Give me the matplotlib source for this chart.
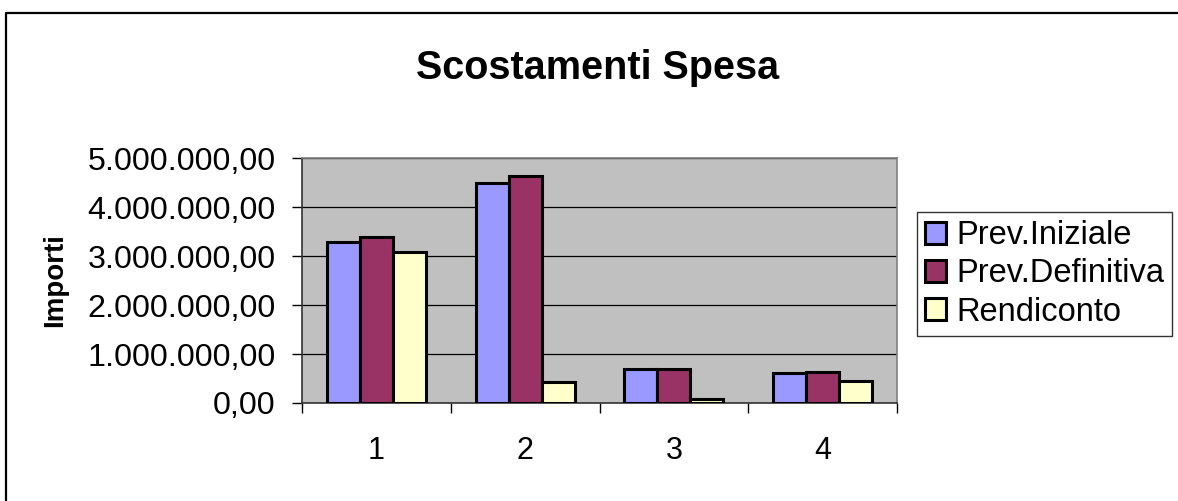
import numpy as np
import matplotlib
matplotlib.use("Agg")
import matplotlib.pyplot as plt
from matplotlib.ticker import FuncFormatter, FixedLocator
from matplotlib.lines import Line2D

# values
categorie = ["1", "2", "3", "4"]
prev_iniziale = [3290000, 4500000, 690000, 610000]
prev_definitiva = [3390000, 4630000, 690000, 630000]
rendiconto = [3080000, 420000, 90000, 450000]
serie = ["Prev.Iniziale", "Prev.Definitiva", "Rendiconto"]
colori = ["#9999FF", "#993366", "#FFFFCC"]

plt.rcParams["font.family"] = ["Liberation Sans", "DejaVu Sans"]

fig = plt.figure(figsize=(11.78, 5.01), dpi=100)
W, H = 1178, 501
ax = fig.add_axes([302 / W, 1 - 403 / H, (897 - 302) / W, (403 - 158) / H])
ax.set_facecolor("#C0C0C0")

x = np.arange(1, len(categorie) + 1)
w = 0.222
for i, (vals, nome, col) in enumerate(zip([prev_iniziale, prev_definitiva, rendiconto], serie, colori)):
    ax.bar(x + (i - 1) * w, vals, width=w, color=col, edgecolor="black",
           linewidth=2.2, label=nome, zorder=3)

ax.set_xlim(0.5, 4.5)
ax.set_ylim(0, 5000000)
ax.set_yticks(np.arange(0, 5000001, 1000000))
ax.yaxis.grid(True, color="black", linewidth=0.9, zorder=1)
ax.set_axisbelow(True)


def fmt(v, pos):
    s = f"{v:,.2f}"
    return s.replace(",", "X").replace(".", ",").replace("X", ".")


ax.yaxis.set_major_formatter(FuncFormatter(fmt))

# ticks at category boundaries, labels in the middle
ax.xaxis.set_major_locator(FixedLocator([0.5, 1.5, 2.5, 3.5, 4.5]))
ax.xaxis.set_minor_locator(FixedLocator(list(x)))
ax.set_xticklabels([])
ax.set_xticklabels(categorie, minor=True)
ax.tick_params(axis="x", which="major", length=7, width=1, direction="out", color="black")
ax.tick_params(axis="x", which="minor", length=0, pad=24, labelsize=22)
ax.tick_params(axis="y", length=7, width=1, direction="out", pad=12, labelsize=23.2)

for s in ["left", "bottom"]:
    ax.spines[s].set_color("#333333")
    ax.spines[s].set_linewidth(1.2)
for s in ["top", "right"]:
    ax.spines[s].set_color("#808080")
    ax.spines[s].set_linewidth(1.2)

ax.set_ylabel("Importi", fontsize=20, fontweight="bold")
ax.yaxis.set_label_coords(-(302 - 68) / (897 - 302), 0.5)

fig.text(598 / W, 1 - 79 / H, "Scostamenti Spesa", fontsize=28.5, fontweight="bold",
         ha="center", va="baseline")

leg = ax.legend(loc="upper left", bbox_to_anchor=(917 / W, 1 - 212 / H),
                bbox_transform=fig.transFigure, fontsize=23.5, frameon=True,
                fancybox=False, handlelength=0.65, handleheight=0.65,
                handletextpad=0.3, borderpad=0.25, labelspacing=0.22,
                borderaxespad=0)
leg.get_frame().set_edgecolor("black")
leg.get_frame().set_linewidth(1)

# outer chart border (only top and left visible)
fig.add_artist(Line2D([6 / W, 6 / W, 1], [0, 1 - 13 / H, 1 - 13 / H],
                      transform=fig.transFigure, color="black", linewidth=1.6))

fig.savefig("out.png", dpi=100)
